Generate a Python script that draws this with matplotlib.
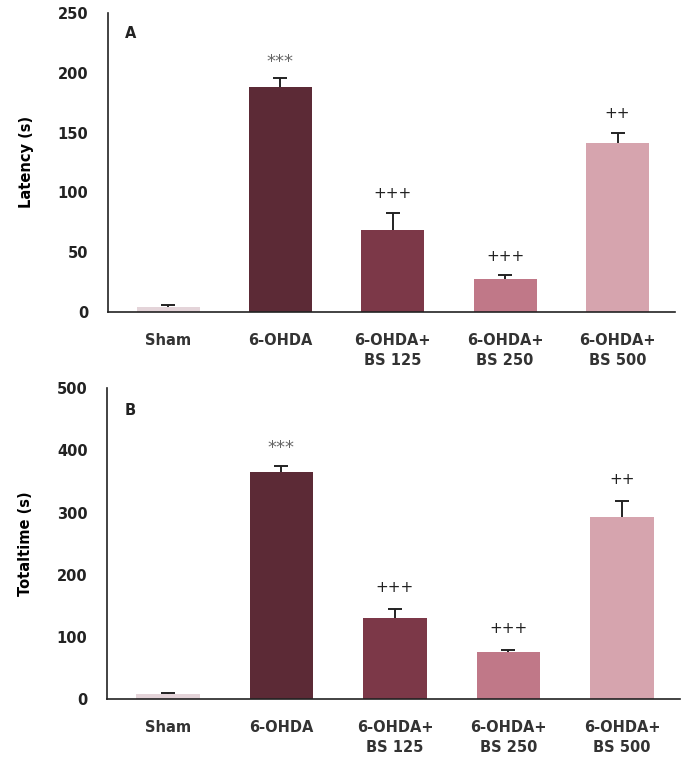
import matplotlib
matplotlib.use("Agg")
import matplotlib.pyplot as plt

groups = ["Sham", "6-OHDA", "6-OHDA+\nBS 125", "6-OHDA+\nBS 250", "6-OHDA+\nBS 500"]
colors = ["#e4d4d9", "#5c2a36", "#7c3848", "#c07888", "#d6a4ae"]

latency = [4, 188, 68, 27, 141]
latency_err = [1.5, 7.5, 15, 3.5, 9]
latency_marks = ["", "***", "+++", "+++", "++"]

total_time = [8, 366, 131, 75, 293]
total_time_err = [2, 9, 14, 4, 26]
total_time_marks = ["", "***", "+++", "+++", "++"]

plt.rcParams["font.family"] = ["DejaVu Sans"]

fig = plt.figure(figsize=(6.9, 7.67), dpi=100)
ax_a = fig.add_axes([0.1565, 0.5936, 0.8215, 0.3894])
ax_b = fig.add_axes([0.155, 0.0887, 0.8305, 0.405])


def draw_panel(ax, vals, errs, marks, ymax, step, ylabel, letter, mark_gap):
    x = list(range(len(vals)))
    ax.bar(x, vals, width=0.56, color=colors, zorder=2)
    # upper error bars only, cap at the top end
    ax.errorbar(x, vals, yerr=[[0] * len(errs), errs], fmt="none",
                ecolor="#222222", elinewidth=1.4, capsize=0, zorder=3)
    tops = [v + e for v, e in zip(vals, errs)]
    ax.plot(x, tops, ls="none", marker="_", ms=10, mew=1.4, color="#222222", zorder=3)
    for xi, t, m in zip(x, tops, marks):
        if not m:
            continue
        if m.startswith("*"):
            ax.text(xi, t + mark_gap * 0.85, m, ha="center", va="center",
                    fontsize=13, color="#666666")
        else:
            ax.text(xi, t + mark_gap, m, ha="center", va="center",
                    fontsize=11, color="#222222")
    ax.set_xlim(-0.535, 4.51)
    ax.set_ylim(0, ymax)
    ax.set_yticks(range(0, ymax + 1, step))
    ax.set_xticks(x)
    ax.set_xticklabels(groups, fontsize=10.5, fontweight="bold", color="#333333",
                       linespacing=1.45)
    for lbl in ax.get_yticklabels():
        lbl.set_fontweight("bold")
        lbl.set_fontsize(10.5)
        lbl.set_color("#222222")
    ax.tick_params(axis="y", length=0, pad=14)
    ax.tick_params(axis="x", length=0, pad=15)
    ax.set_ylabel(ylabel, fontsize=10.5, fontweight="bold", labelpad=17)
    for side in ["top", "right"]:
        ax.spines[side].set_visible(False)
    for side in ["left", "bottom"]:
        ax.spines[side].set_linewidth(1.2)
        ax.spines[side].set_color("#222222")
    ax.text(0.03, 0.93, letter, transform=ax.transAxes, fontsize=10.5,
            fontweight="bold", ha="left", va="center", color="#222222")


draw_panel(ax_a, latency, latency_err, latency_marks, 250, 50,
           "Latency (s)", "A", 16)
draw_panel(ax_b, total_time, total_time_err, total_time_marks, 500, 100,
           "Totaltime (s)", "B", 35)

fig.savefig("out.png", dpi=100)
